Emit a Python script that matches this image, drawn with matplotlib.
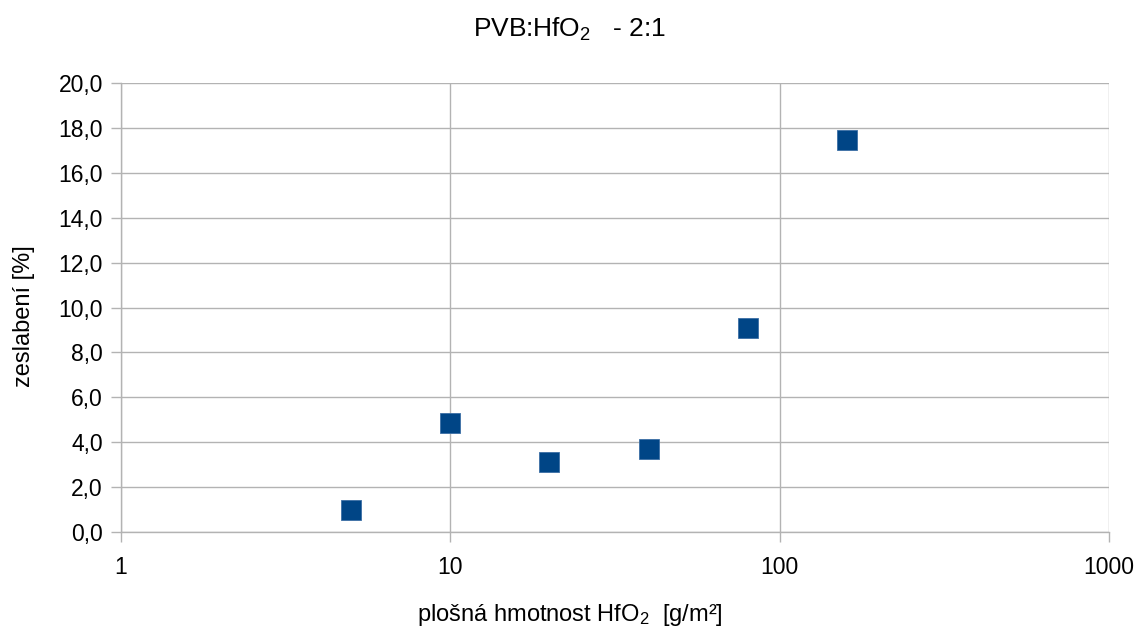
import numpy as np
import matplotlib.pyplot as plt
from matplotlib.ticker import FixedLocator, FuncFormatter, NullLocator

plt.rcParams['font.family'] = ['Liberation Sans', 'DejaVu Sans']
plt.rcParams['mathtext.fontset'] = 'custom'
plt.rcParams['mathtext.rm'] = 'Liberation Sans'
plt.rcParams['mathtext.it'] = 'Liberation Sans:italic'

# data
mass = [5, 10, 20, 40, 80, 160]
attenuation = [1.0, 4.86, 3.12, 3.70, 9.09, 17.46]

x_ticks = [1, 10, 100, 1000]
y_ticks = np.arange(0, 21, 2)

grid_col = "#b3b3b3"
mark_col = "#004586"

fig = plt.figure(figsize=(11.4, 6.29), dpi=100)
ax = fig.add_axes([0.1061, 0.1542, 0.8667, 0.7138])

ax.plot(mass, attenuation, "s", color=mark_col, markersize=14,
        markeredgecolor="#3b6ea5", markeredgewidth=0.6, zorder=3)

ax.set_xscale("log")
ax.set_xlim(1, 1000)
ax.set_ylim(0, 20)
ax.xaxis.set_major_locator(FixedLocator(x_ticks))
ax.xaxis.set_minor_locator(NullLocator())
ax.xaxis.set_major_formatter(FuncFormatter(lambda v, p: "%d" % v))
ax.set_yticks(y_ticks)
ax.yaxis.set_major_formatter(FuncFormatter(lambda v, p: ("%.1f" % v).replace(".", ",")))

ax.grid(True, color=grid_col, linewidth=1)
ax.set_axisbelow(True)
for s in ["top", "right"]:
    ax.spines[s].set_visible(False)
for s in ["left", "bottom"]:
    ax.spines[s].set_color(grid_col)
    ax.spines[s].set_linewidth(1)
ax.tick_params(axis="both", colors=grid_col, length=7.5, width=1, labelcolor="black",
               labelsize=16.5)
ax.tick_params(axis="x", pad=10)
ax.tick_params(axis="y", pad=5.5)

fig.text(0.5, 0.941, r"PVB:HfO$_2$   - 2:1", ha="center", va="baseline", fontsize=19)
fig.text(0.5, 0.013, r"plošná hmotnost HfO$_2$  [g/m²]", ha="center", va="baseline",
         fontsize=17)
fig.text(0.021, 0.4976, "zeslabení [%]", ha="center", va="center", rotation=90,
         fontsize=17)

fig.savefig("out.png", dpi=100)
